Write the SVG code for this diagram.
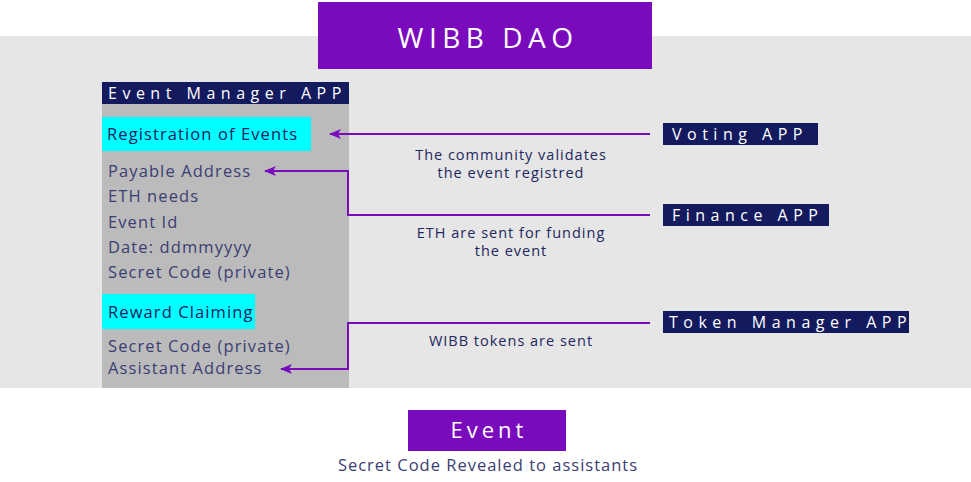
<svg xmlns="http://www.w3.org/2000/svg" width="971" height="482" viewBox="0 0 971 482">
<style>
.panel{font-family:"Open Sans","Liberation Sans",sans-serif;font-size:16.5px;fill:#3a3e72;letter-spacing:1.1px}
.note{font-family:"Open Sans","Liberation Sans",sans-serif;font-size:14.5px;fill:#22275e;text-anchor:middle;letter-spacing:1px}
.hdr{font-family:"Open Sans","Liberation Sans",sans-serif;font-size:16px;fill:#ffffff;letter-spacing:5.5px}
.navy{fill:#141a5e}
.cyan{fill:#00ffff}
.purple{fill:#7a0bbd}
.conn{fill:none;stroke:#7a0bbd;stroke-width:2}
</style>
<defs>
<marker id="ah" markerWidth="12" markerHeight="10" refX="11" refY="5" orient="auto" markerUnits="userSpaceOnUse">
<path d="M12,5 L0,0 L3,5 L0,10 Z" fill="#7a0bbd"/>
</marker>
</defs>
<rect x="0" y="36" width="971" height="352" fill="#e6e6e6"/>
<g id="wibb-dao">
<rect x="318" y="2" width="334" height="67" class="purple"/>
<text x="488" y="48" text-anchor="middle" font-family="'Open Sans','Liberation Sans',sans-serif" font-size="28" fill="#ffffff" letter-spacing="5.5">WIBB DAO</text>
</g>
<g id="event-manager">
<rect x="102" y="104" width="247" height="284" fill="#bbbbbb"/>
<rect x="102" y="82" width="247" height="22" class="navy"/>
<text x="108" y="99" class="hdr">Event Manager APP</text>
<rect x="102" y="117" width="209" height="34" class="cyan"/>
<text x="107" y="140" class="panel" style="fill:#1b2060">Registration of Events</text>
<text x="108" y="177" class="panel">Payable Address</text>
<text x="108" y="202" class="panel">ETH needs</text>
<text x="108" y="228" class="panel">Event Id</text>
<text x="108" y="253" class="panel">Date: ddmmyyyy</text>
<text x="108" y="278" class="panel">Secret Code (private)</text>
<rect x="102" y="294" width="153" height="35" class="cyan"/>
<text x="108" y="318" class="panel" style="fill:#1b2060">Reward Claiming</text>
<text x="108" y="352" class="panel">Secret Code (private)</text>
<text x="108" y="374" class="panel">Assistant Address</text>
</g>
<g id="voting-app">
<rect x="663" y="123" width="155" height="22" class="navy"/>
<text x="672" y="140" class="hdr">Voting APP</text>
</g>
<g id="finance-app">
<rect x="663" y="204" width="166" height="22" class="navy"/>
<text x="672" y="221" class="hdr">Finance APP</text>
</g>
<g id="token-manager-app">
<rect x="663" y="311" width="246" height="22" class="navy"/>
<text x="669" y="328" class="hdr">Token Manager APP</text>
</g>
<g id="connectors">
<path class="conn" d="M650,134 L330,134" marker-end="url(#ah)"/>
<path class="conn" d="M650,215 L348,215 L348,171 L265,171" marker-end="url(#ah)"/>
<path class="conn" d="M650,323 L348,323 L348,369 L281,369" marker-end="url(#ah)"/>
<text x="511" y="160" class="note">The community validates</text>
<text x="511" y="178" class="note">the event registred</text>
<text x="511" y="238" class="note">ETH are sent for funding</text>
<text x="511" y="256" class="note">the event</text>
<text x="511" y="346" class="note">WIBB tokens are sent</text>
</g>
<g id="event">
<rect x="408" y="410" width="158" height="41" class="purple"/>
<text x="489" y="438" text-anchor="middle" font-family="'Open Sans','Liberation Sans',sans-serif" font-size="22" fill="#ffffff" letter-spacing="4">Event</text>
<text x="488" y="471" text-anchor="middle" font-family="'Open Sans','Liberation Sans',sans-serif" font-size="16.5" fill="#3a3e72" letter-spacing="1">Secret Code Revealed to assistants</text>
</g>
</svg>
